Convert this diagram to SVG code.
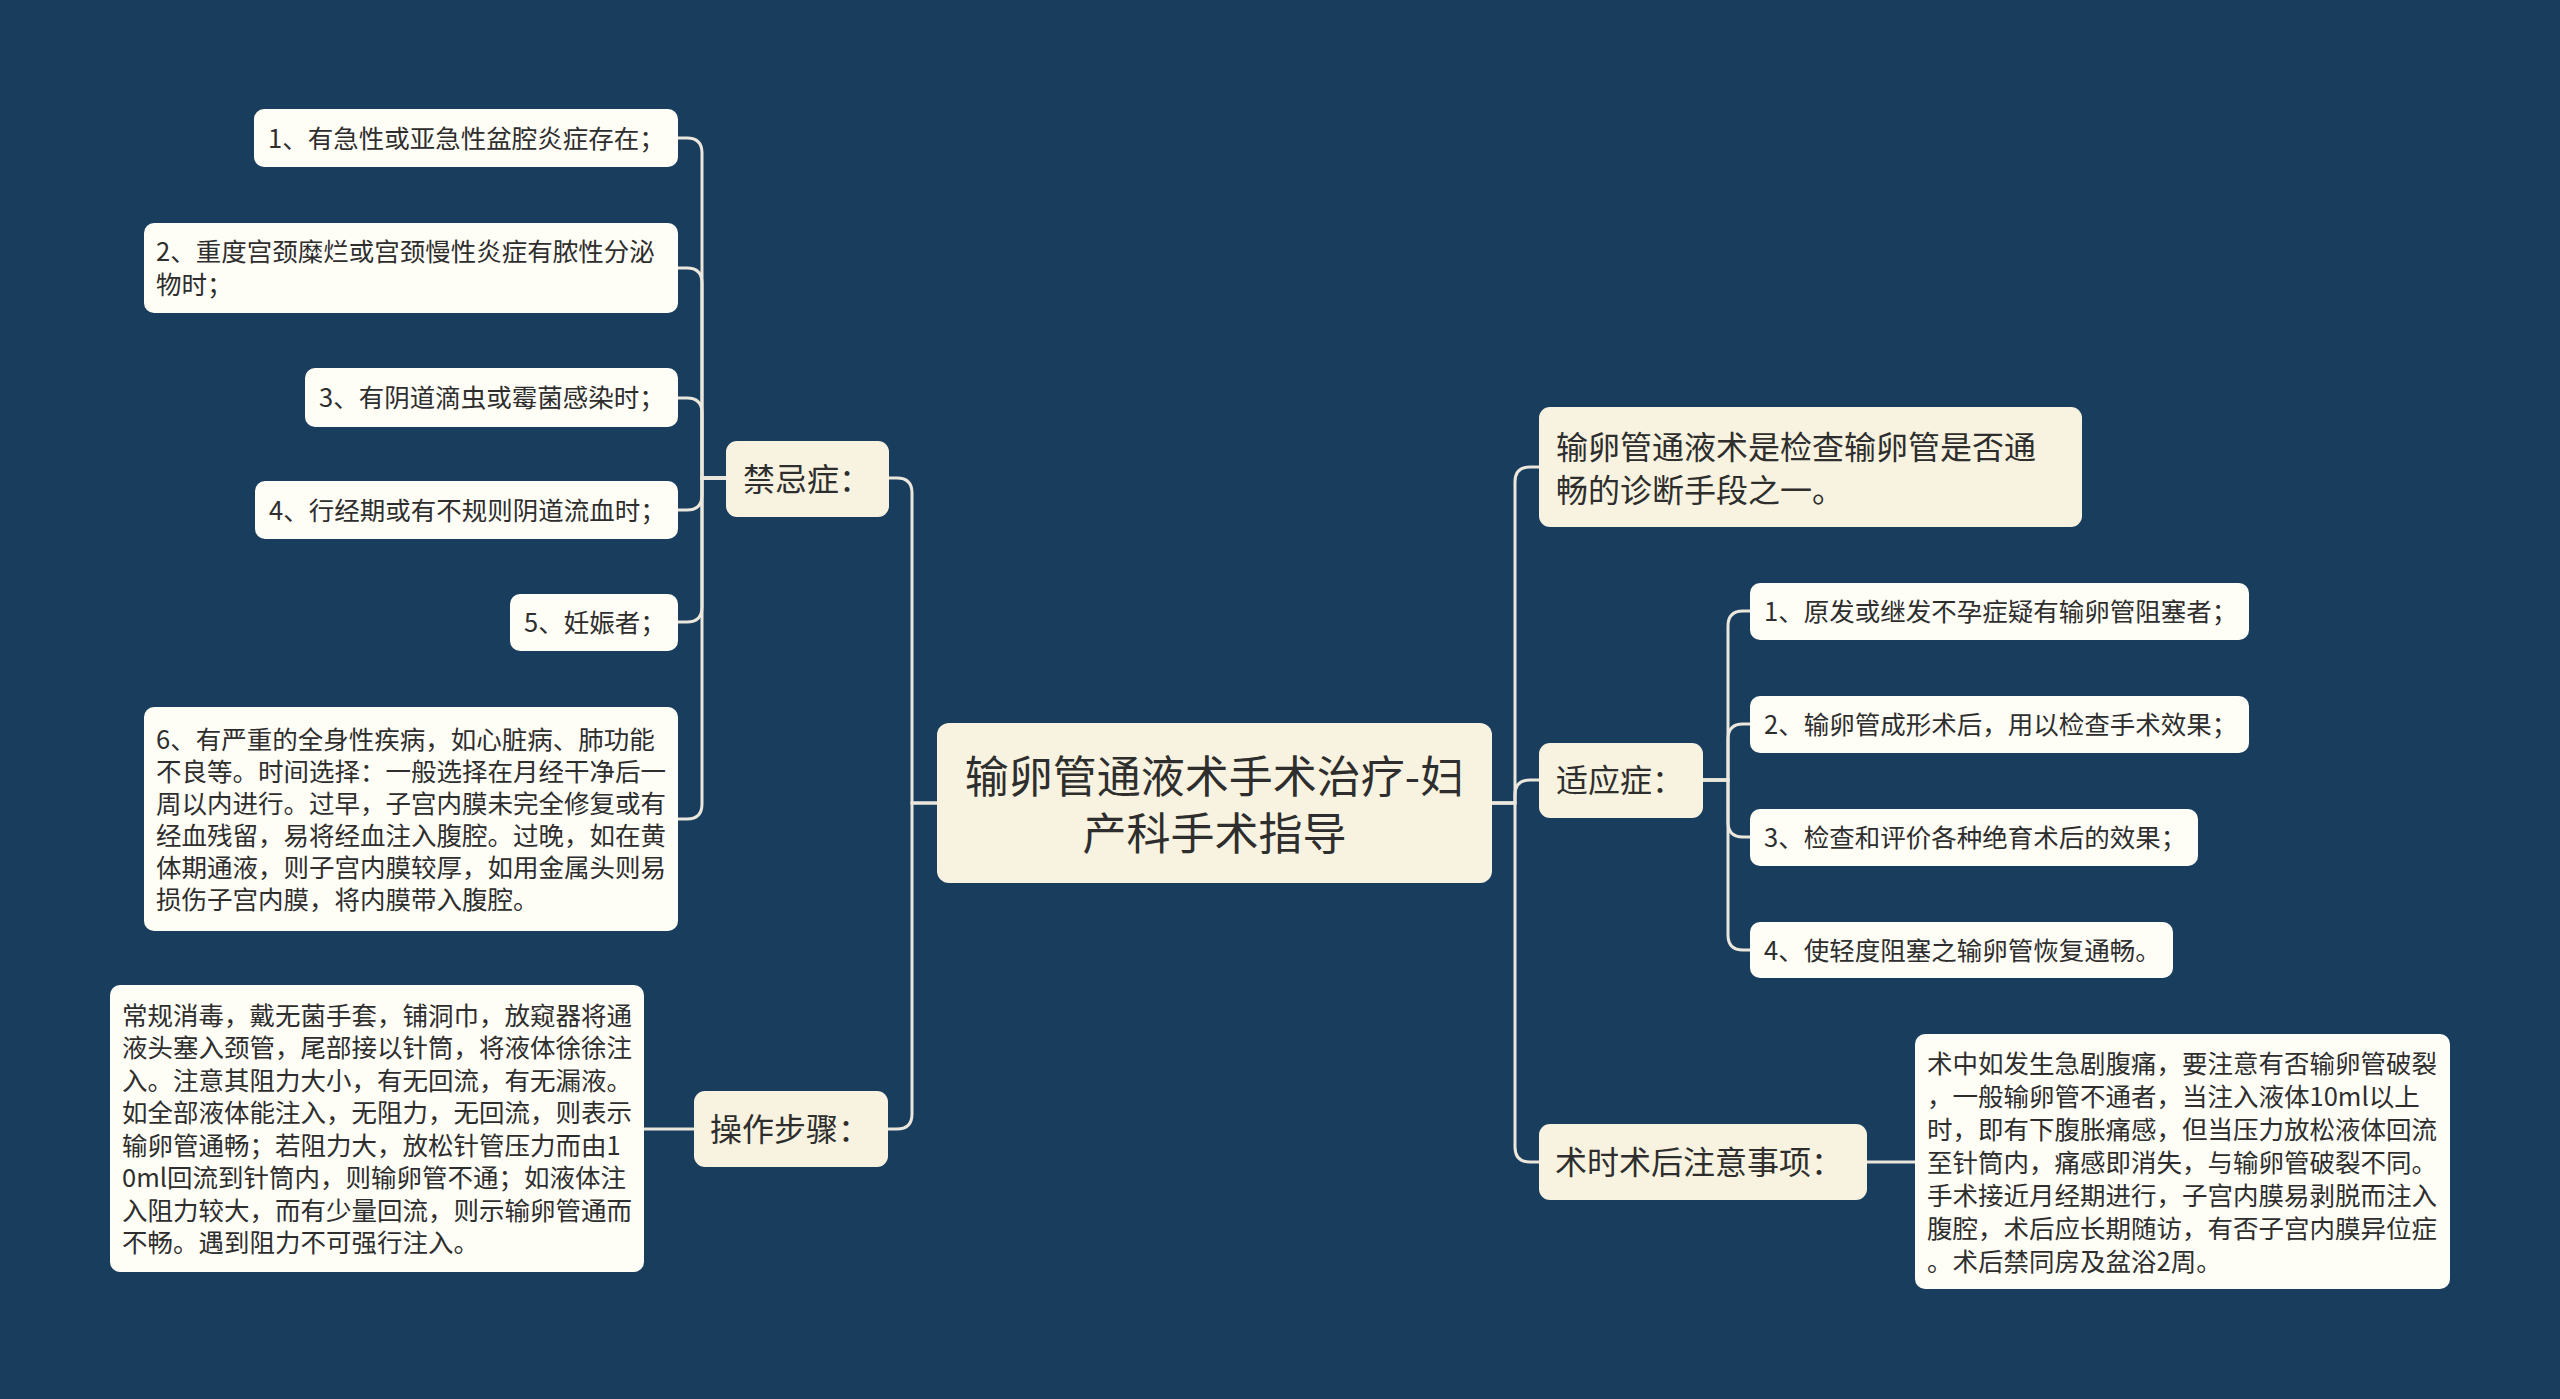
<svg xmlns="http://www.w3.org/2000/svg" width="2560" height="1399" viewBox="0 0 2560 1399">
<style>
text{font-family:"Noto Sans CJK SC","Noto Sans",sans-serif;fill:#2e2e2e}
.main{fill:#f8f3e0}
.leaf{fill:#fefdf6}
.t44{font-size:44px}
.t32{font-size:32px}
.t26{font-size:25.5px}
.mid{text-anchor:middle}
#connectors path{fill:none;stroke:#ebe7dc;stroke-width:3;stroke-linecap:round}
</style>
<rect width="2560" height="1399" fill="#183d5d"/>
<g id="connectors">
<path d="M937,803 H912 V493 Q912,478 897,478 H889"/>
<path d="M937,803 H912 V1114 Q912,1129 897,1129 H888"/>
<path d="M726,478 H702 V153 Q702,138 687,138 H678"/>
<path d="M726,478 H702 V283 Q702,268 687,268 H678"/>
<path d="M726,478 H702 V413 Q702,398 687,398 H678"/>
<path d="M726,478 H702 V495 Q702,510 687,510 H678"/>
<path d="M726,478 H702 V607 Q702,622 687,622 H678"/>
<path d="M726,478 H702 V804 Q702,819 687,819 H678"/>
<path d="M644,1129 H694"/>
<path d="M1492,803 H1515 V482 Q1515,467 1530,467 H1539"/>
<path d="M1492,803 H1515 V795 Q1515,780 1530,780 H1539"/>
<path d="M1492,803 H1515 V1147 Q1515,1162 1530,1162 H1539"/>
<path d="M1703,780 H1728 V626 Q1728,611 1743,611 H1750"/>
<path d="M1703,780 H1728 V739 Q1728,724 1743,724 H1750"/>
<path d="M1703,780 H1728 V822 Q1728,837 1743,837 H1750"/>
<path d="M1703,780 H1728 V935 Q1728,950 1743,950 H1750"/>
<path d="M1867,1162 H1915"/>
</g>
<g id="center">
<rect class="main" x="937" y="723" width="555" height="160" rx="12"/>
<text class="t44 mid" x="1214.5" y="793">输卵管通液术手术治疗-妇</text>
<text class="t44 mid" x="1214.5" y="850">产科手术指导</text>
</g>
<g id="jinjizheng">
<rect class="main" x="726" y="441" width="163" height="76" rx="11"/>
<text class="t32" x="743" y="491">禁忌症：</text>
</g>
<g id="jj1">
<rect class="leaf" x="254" y="109" width="424" height="58" rx="10"/>
<text class="t26" x="268" y="147.5">1、有急性或亚急性盆腔炎症存在；</text>
</g>
<g id="jj2">
<rect class="leaf" x="144" y="223" width="534" height="90" rx="10"/>
<text class="t26" x="156" y="261">2、重度宫颈糜烂或宫颈慢性炎症有脓性分泌</text>
<text class="t26" x="156" y="294">物时；</text>
</g>
<g id="jj3">
<rect class="leaf" x="305" y="368" width="373" height="59" rx="10"/>
<text class="t26" x="319" y="407">3、有阴道滴虫或霉菌感染时；</text>
</g>
<g id="jj4">
<rect class="leaf" x="255" y="481" width="423" height="58" rx="10"/>
<text class="t26" x="269" y="519.5">4、行经期或有不规则阴道流血时；</text>
</g>
<g id="jj5">
<rect class="leaf" x="510" y="594" width="168" height="57" rx="10"/>
<text class="t26" x="524" y="632">5、妊娠者；</text>
</g>
<g id="jj6">
<rect class="leaf" x="144" y="707" width="534" height="224" rx="10"/>
<text class="t26" x="156" y="749">6、有严重的全身性疾病，如心脏病、肺功能</text>
<text class="t26" x="156" y="781">不良等。时间选择：一般选择在月经干净后一</text>
<text class="t26" x="156" y="813">周以内进行。过早，子宫内膜未完全修复或有</text>
<text class="t26" x="156" y="845">经血残留，易将经血注入腹腔。过晚，如在黄</text>
<text class="t26" x="156" y="877">体期通液，则子宫内膜较厚，如用金属头则易</text>
<text class="t26" x="156" y="909">损伤子宫内膜，将内膜带入腹腔。</text>
</g>
<g id="caozuo">
<rect class="main" x="694" y="1091" width="194" height="76" rx="11"/>
<text class="t32" x="710" y="1141">操作步骤：</text>
</g>
<g id="cz1">
<rect class="leaf" x="110" y="985" width="534" height="287" rx="10"/>
<text class="t26" x="122" y="1024.5">常规消毒，戴无菌手套，铺洞巾，放窥器将通</text>
<text class="t26" x="122" y="1057">液头塞入颈管，尾部接以针筒，将液体徐徐注</text>
<text class="t26" x="122" y="1089.5">入。注意其阻力大小，有无回流，有无漏液。</text>
<text class="t26" x="122" y="1122">如全部液体能注入，无阻力，无回流，则表示</text>
<text class="t26" x="122" y="1154.5">输卵管通畅；若阻力大，放松针管压力而由1</text>
<text class="t26" x="122" y="1187">0ml回流到针筒内，则输卵管不通；如液体注</text>
<text class="t26" x="122" y="1219.5">入阻力较大，而有少量回流，则示输卵管通而</text>
<text class="t26" x="122" y="1252">不畅。遇到阻力不可强行注入。</text>
</g>
<g id="intro">
<rect class="main" x="1539" y="407" width="543" height="120" rx="11"/>
<text class="t32" x="1556" y="459">输卵管通液术是检查输卵管是否通</text>
<text class="t32" x="1556" y="502">畅的诊断手段之一。</text>
</g>
<g id="shiyingzheng">
<rect class="main" x="1539" y="743" width="164" height="75" rx="11"/>
<text class="t32" x="1556" y="792">适应症：</text>
</g>
<g id="sy1">
<rect class="leaf" x="1750" y="583" width="499" height="57" rx="10"/>
<text class="t26" x="1764" y="621">1、原发或继发不孕症疑有输卵管阻塞者；</text>
</g>
<g id="sy2">
<rect class="leaf" x="1750" y="696" width="499" height="57" rx="10"/>
<text class="t26" x="1764" y="734">2、输卵管成形术后，用以检查手术效果；</text>
</g>
<g id="sy3">
<rect class="leaf" x="1750" y="809" width="448" height="57" rx="10"/>
<text class="t26" x="1764" y="847">3、检查和评价各种绝育术后的效果；</text>
</g>
<g id="sy4">
<rect class="leaf" x="1750" y="922" width="423" height="56" rx="10"/>
<text class="t26" x="1764" y="959.5">4、使轻度阻塞之输卵管恢复通畅。</text>
</g>
<g id="zhuyi">
<rect class="main" x="1539" y="1124" width="328" height="76" rx="11"/>
<text class="t32" x="1555" y="1174">术时术后注意事项：</text>
</g>
<g id="zy1">
<rect class="leaf" x="1915" y="1034" width="535" height="255" rx="10"/>
<text class="t26" x="1927" y="1072.5">术中如发生急剧腹痛，要注意有否输卵管破裂</text>
<text class="t26" x="1927" y="1105.5">，一般输卵管不通者，当注入液体10ml以上</text>
<text class="t26" x="1927" y="1138.5">时，即有下腹胀痛感，但当压力放松液体回流</text>
<text class="t26" x="1927" y="1171.5">至针筒内，痛感即消失，与输卵管破裂不同。</text>
<text class="t26" x="1927" y="1204.5">手术接近月经期进行，子宫内膜易剥脱而注入</text>
<text class="t26" x="1927" y="1237.5">腹腔，术后应长期随访，有否子宫内膜异位症</text>
<text class="t26" x="1927" y="1270.5">。术后禁同房及盆浴2周。</text>
</g>
</svg>
